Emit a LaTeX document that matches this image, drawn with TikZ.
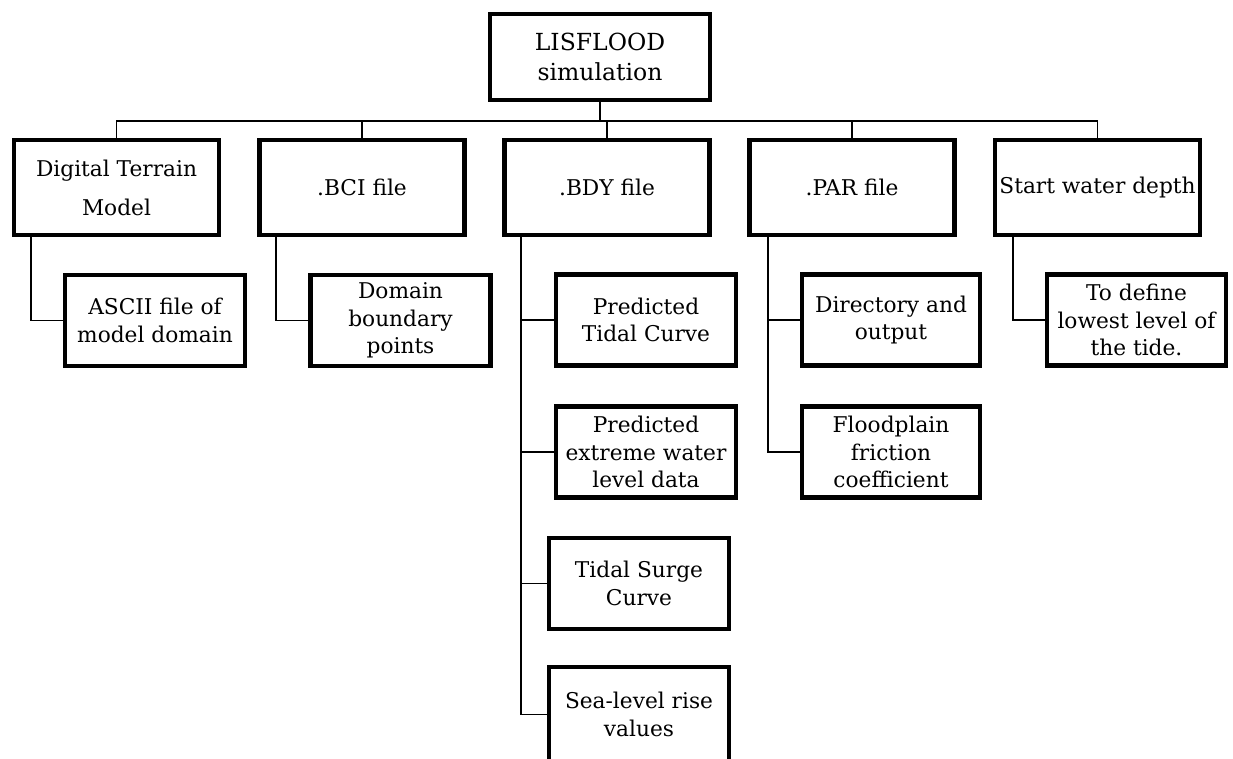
\documentclass[tikz,border=0pt]{standalone}
\usepackage{fontspec}
\setmainfont{DejaVu Serif}
\begin{document}
\begin{tikzpicture}[x=1pt,y=-1pt,
  box/.style={draw=black,line width=4.3pt,fill=white,inner sep=0pt,align=center,
    font=\fontsize{21.7pt}{27.5pt}\selectfont},
  lone/.style={box,minimum width=205pt,minimum height=95pt},
  ltwo/.style={box,minimum width=180pt,minimum height=91pt},
  link/.style={draw=black,line width=1.9pt}]
\useasboundingbox (0,0) rectangle (1233,758);
\clip (0,0) rectangle (1233,758);
\fill[white] (0,0) rectangle (1233,758);
% top
\node[box,minimum width=220pt,minimum height=86pt,font=\fontsize{23.5pt}{30pt}\selectfont] (top) at (600,57) {LISFLOOD\\simulation};
\coordinate (bus) at (600,121);
% level 1
\node[lone] (dtm) at (116.5,187.5) {Digital Terrain\\[11.5pt]Model};
\node[lone] (bci) at (362,187.5) {.BCI file};
\node[lone] (bdy) at (607,187.5) {.BDY file};
\node[lone] (par) at (852,187.5) {.PAR file};
\node[lone] (swd) at (1097.5,187.5) {Start water depth};
% level 2
\node[ltwo] (ascii) at (155,320.5) {ASCII file of\\model domain};
\node[ltwo] (dom) at (400.5,320.5) {Domain\\boundary\\points};
\node[ltwo] (ptc) at (646,320) {Predicted\\Tidal Curve};
\node[ltwo] (pew) at (646,452) {Predicted\\extreme water\\level data};
\node[ltwo] (tsc) at (639,583.5) {Tidal Surge\\Curve};
\node[ltwo,minimum height=95pt] (slr) at (639,714.5) {Sea-level rise\\values};
\node[ltwo,minimum width=178pt] (dao) at (891,320) {Directory and\\output};
\node[ltwo,minimum width=178pt] (ffc) at (891,452) {Floodplain\\friction\\coefficient};
\node[ltwo,minimum width=179pt] (tdl) at (1136.5,320) {To define\\lowest level of\\the tide.};
% connectors
\draw[link] (top.south) -- (bus);
\foreach \n in {dtm,bci,bdy,par,swd} \draw[link] (\n.north) |- (bus);
\draw[link] ([xshift=19pt]dtm.south west) |- (ascii.west);
\draw[link] ([xshift=19pt]bci.south west) |- (dom.west);
\draw[link] ([xshift=19pt]bdy.south west) |- (ptc.west);
\draw[link] ([xshift=19pt]bdy.south west) |- (pew.west);
\draw[link] ([xshift=19pt]bdy.south west) |- (tsc.west);
\draw[link] ([xshift=19pt]bdy.south west) |- (slr.west);
\draw[link] ([xshift=21pt]par.south west) |- (dao.west);
\draw[link] ([xshift=21pt]par.south west) |- (ffc.west);
\draw[link] ([xshift=20pt]swd.south west) |- (tdl.west);
\end{tikzpicture}
\end{document}
